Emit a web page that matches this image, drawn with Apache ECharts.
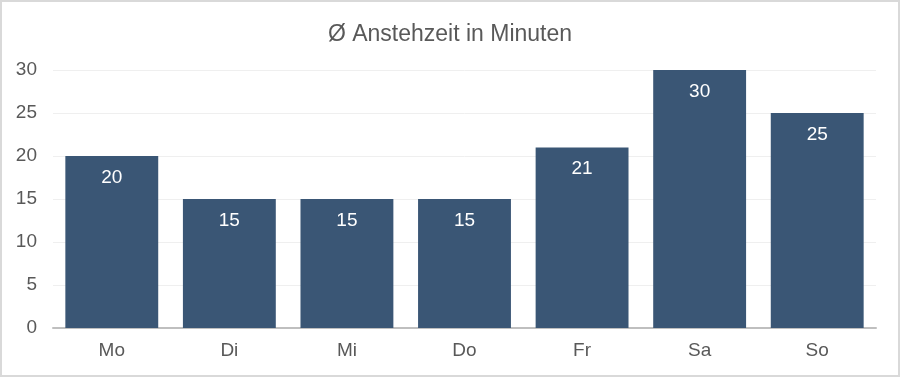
<!DOCTYPE html>
<html>
<head>
<meta charset="utf-8">
<script src="https://cdn.jsdelivr.net/npm/echarts@6/dist/echarts.min.js"></script>
<style>
  html, body { margin: 0; padding: 0; background: #fff; }
  #chart { width: 900px; height: 377px; box-sizing: border-box; border: 2px solid #d9d9d9; }
</style>
</head>
<body>
<div id="chart"></div>
<script>
const days = ['Mo', 'Di', 'Mi', 'Do', 'Fr', 'Sa', 'So'];
const waitMinutes = [20, 15, 15, 15, 21, 30, 25];

const chart = echarts.init(document.getElementById('chart'));
chart.setOption({
  animation: false,
  textStyle: { fontFamily: 'Liberation Sans, Arial, sans-serif' },
  title: {
    text: 'Ø Anstehzeit in Minuten',
    left: 'center',
    top: 16,
    textStyle: { fontSize: 23, fontWeight: 'normal', color: '#595959' },
  },
  grid: { left: 51, right: 22, top: 68, bottom: 47 },
  xAxis: {
    type: 'category',
    data: days,
    axisTick: { show: false },
    axisLine: { lineStyle: { color: '#bfbfbf', width: 2 } },
    axisLabel: { fontSize: 19, color: '#595959', margin: 13 },
  },
  yAxis: {
    type: 'value',
    min: 0,
    max: 30,
    interval: 5,
    axisLabel: { fontSize: 19, color: '#595959', margin: 16 },
    splitLine: { lineStyle: { color: '#efefef', width: 1 } },
  },
  series: [
    {
      type: 'bar',
      data: waitMinutes,
      barCategoryGap: '21%',
      itemStyle: { color: '#3a5675' },
      label: {
        show: true,
        position: 'insideTop',
        distance: 12,
        fontSize: 19,
        color: '#ffffff',
      },
    },
  ],
});
</script>
</body>
</html>
